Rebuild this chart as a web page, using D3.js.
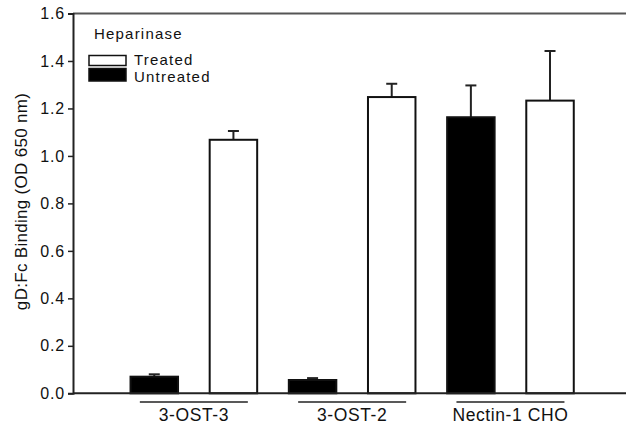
<!DOCTYPE html>
<html>
<head>
<meta charset="utf-8">
<script src="https://cdn.jsdelivr.net/npm/d3@7"></script>
<style>
  body { margin: 0; background: #fff; }
  text { font-family: "Liberation Sans", Arial, sans-serif; fill: #111; }
</style>
</head>
<body>
<div id="chart"></div>
<script>
// values
const groups = ["3-OST-3", "3-OST-2", "Nectin-1 CHO"];
const conditions = ["Untreated", "Treated"];
const untreated = [0.070, 0.056, 1.163];
const untreatedErr = [0.010, 0.008, 0.134];
const treated = [1.068, 1.248, 1.233];
const treatedErr = [0.037, 0.056, 0.209];
const yTicks = [0, 0.2, 0.4, 0.6, 0.8, 1.0, 1.2, 1.4, 1.6];

const width = 626, height = 426;
const margin = {top: 13.5, right: 0, bottom: 32.7, left: 73};

const svg = d3.select("#chart").append("svg")
    .attr("width", width)
    .attr("height", height);

const y = d3.scaleLinear()
    .domain([0, 1.6])
    .range([height - margin.bottom, margin.top]);

const x = d3.scaleBand()
    .domain(groups)
    .range([114.7, 589.6]);

const xInner = d3.scaleBand()
    .domain(conditions)
    .range([0, x.bandwidth()])
    .paddingInner(0.4)
    .paddingOuter(0.2);

const fill = {Untreated: "#000", Treated: "#fff"};

// rows for bars
const rows = [];
groups.forEach((g, i) => {
  rows.push({group: g, cond: "Untreated", value: untreated[i], err: untreatedErr[i]});
  rows.push({group: g, cond: "Treated", value: treated[i], err: treatedErr[i]});
});

// top frame line
svg.append("line")
    .attr("x1", margin.left).attr("x2", width)
    .attr("y1", y(1.6)).attr("y2", y(1.6))
    .attr("stroke", "#555").attr("stroke-width", 2);

// error bars (drawn first, bar covers the lower part)
const eb = svg.append("g").attr("stroke", "#222").attr("stroke-width", 2);
eb.selectAll("line.v")
  .data(rows)
  .join("line")
    .attr("class", "v")
    .attr("x1", d => x(d.group) + xInner(d.cond) + xInner.bandwidth() / 2)
    .attr("x2", d => x(d.group) + xInner(d.cond) + xInner.bandwidth() / 2)
    .attr("y1", d => y(d.value))
    .attr("y2", d => y(d.value + d.err));
eb.selectAll("line.cap")
  .data(rows)
  .join("line")
    .attr("class", "cap")
    .attr("x1", d => x(d.group) + xInner(d.cond) + xInner.bandwidth() / 2 - 5.5)
    .attr("x2", d => x(d.group) + xInner(d.cond) + xInner.bandwidth() / 2 + 5.5)
    .attr("y1", d => y(d.value + d.err))
    .attr("y2", d => y(d.value + d.err));

// bars
svg.append("g")
  .selectAll("rect")
  .data(rows)
  .join("rect")
    .attr("x", d => x(d.group) + xInner(d.cond))
    .attr("y", d => y(d.value))
    .attr("width", xInner.bandwidth())
    .attr("height", d => y(0) - y(d.value))
    .attr("fill", d => fill[d.cond])
    .attr("stroke", "#111")
    .attr("stroke-width", 2);

// y axis
const yAxis = svg.append("g")
    .attr("transform", `translate(${margin.left},0)`)
    .call(d3.axisLeft(y).tickValues(yTicks).tickFormat(d3.format(".1f")).tickSize(5).tickPadding(3));
yAxis.select(".domain").attr("stroke", "#222").attr("stroke-width", 2);
yAxis.selectAll(".tick line").attr("stroke", "#222").attr("stroke-width", 1.5);
yAxis.selectAll(".tick text")
    .attr("font-size", 16)
    .attr("font-family", "Liberation Sans, Arial, sans-serif")
    .attr("letter-spacing", "0.8")
    .attr("fill", "#111");

// baseline
svg.append("line")
    .attr("x1", margin.left).attr("x2", width)
    .attr("y1", y(0)).attr("y2", y(0))
    .attr("stroke", "#222").attr("stroke-width", 2);

// group labels with underline
const gl = svg.append("g")
  .selectAll("g")
  .data(groups)
  .join("g")
    .attr("transform", d => `translate(${x(d) + x.bandwidth() / 2},0)`);
gl.append("line")
    .attr("x1", -54).attr("x2", 54)
    .attr("y1", 402).attr("y2", 402)
    .attr("stroke", "#222").attr("stroke-width", 1.5);
gl.append("text")
    .attr("y", 421)
    .attr("text-anchor", "middle")
    .attr("font-size", 17.5)
    .attr("letter-spacing", "0.6")
    .text(d => d);

// y title
svg.append("text")
    .attr("transform", `translate(27,${(93 + 310) / 2}) rotate(-90)`)
    .attr("text-anchor", "middle")
    .attr("font-size", 17)
    .attr("letter-spacing", "0.3")
    .text("gD:Fc Binding (OD 650 nm)");

// legend
const legend = svg.append("g");
legend.append("text")
    .attr("x", 94).attr("y", 39)
    .attr("font-size", 15)
    .attr("letter-spacing", "1.2")
    .text("Heparinase");
const legendItems = ["Treated", "Untreated"];
legendItems.forEach((c, i) => {
  legend.append("rect")
      .attr("x", 89).attr("y", 55.5 + i * 13)
      .attr("width", 37).attr("height", i ? 12.5 : 10)
      .attr("fill", fill[c])
      .attr("stroke", "#111").attr("stroke-width", 1.5);
  legend.append("text")
      .attr("x", 134).attr("y", 64.5 + i * 17)
      .attr("font-size", 15)
      .attr("letter-spacing", "1.2")
      .text(c);
});
</script>
</body>
</html>
